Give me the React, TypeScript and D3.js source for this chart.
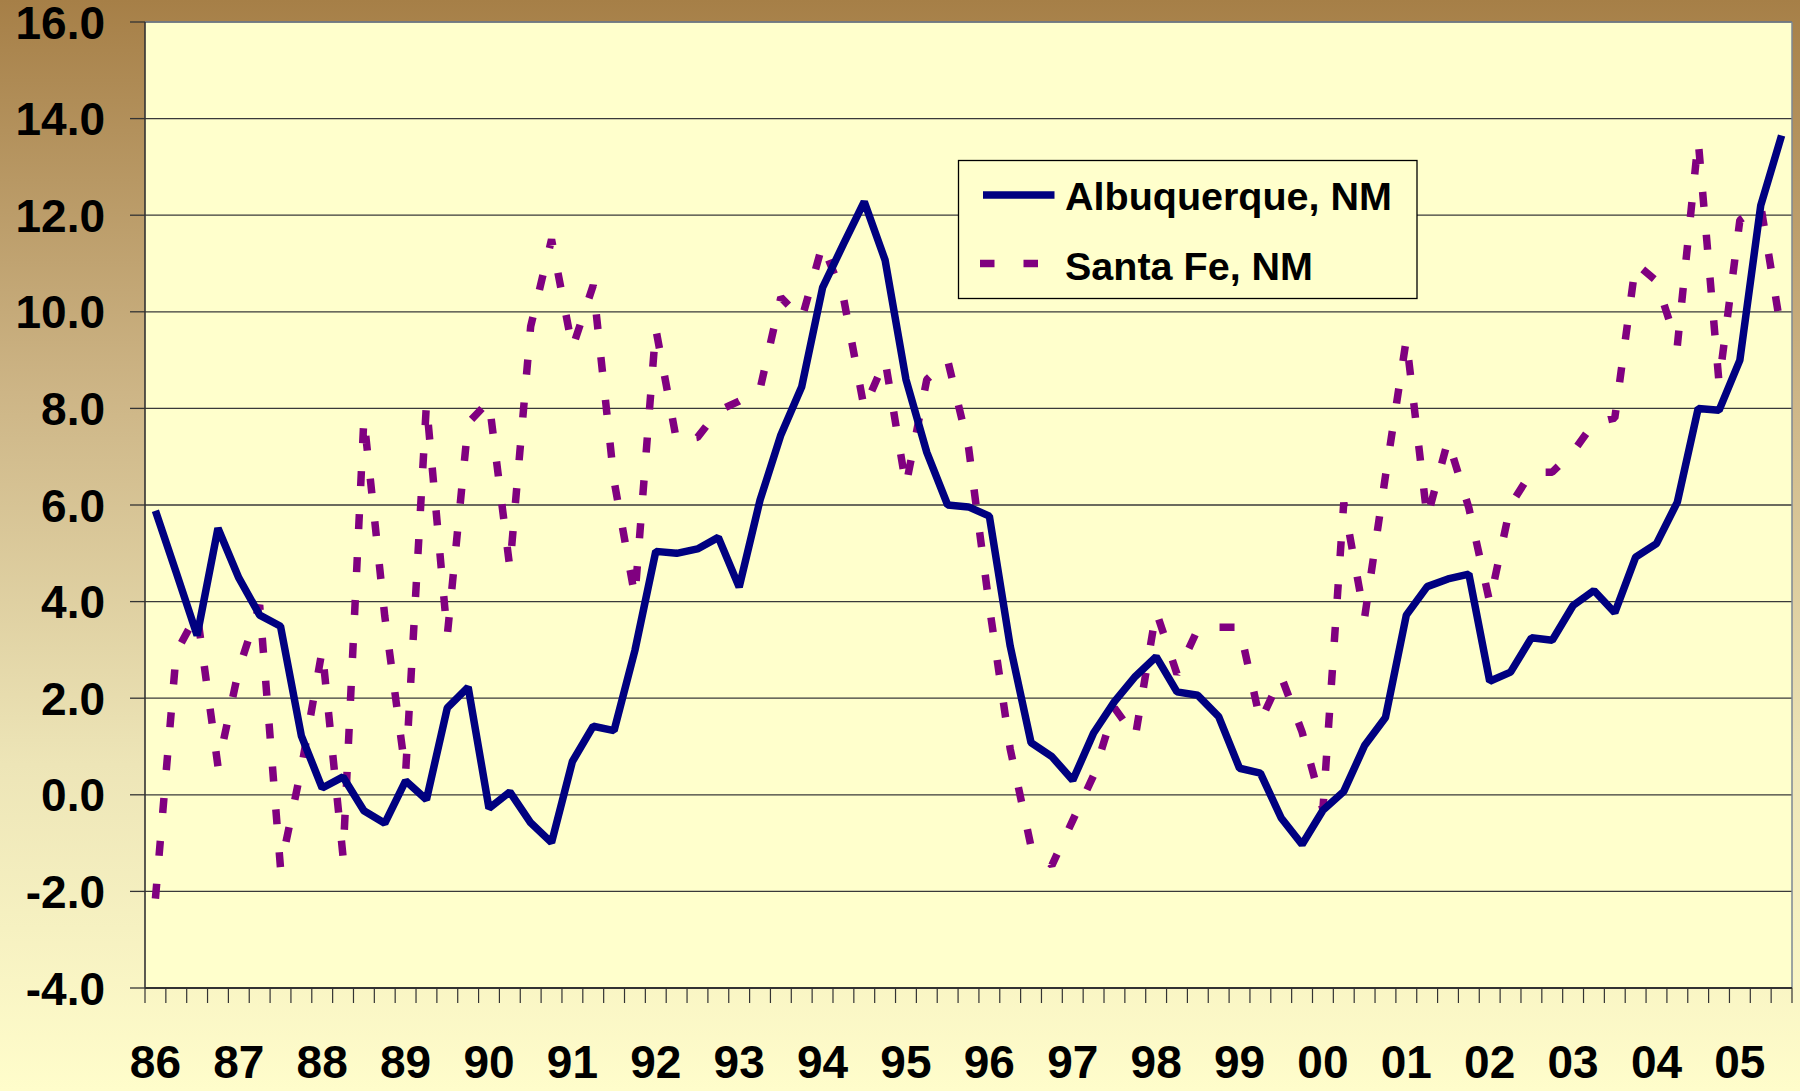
import React from "react";
import * as d3 from "d3";

const years = ["86","87","88","89","90","91","92","93","94","95","96","97","98","99","00","01","02","03","04","05"];
const quarters = ["Q1","Q2","Q3","Q4"];
const categories = years.flatMap((yr) => quarters.map((q) => yr + q)).slice(0, 79);

const albuquerque = [
  5.88, 4.6, 3.3, 5.52, 4.49, 3.72, 3.49, 1.22,
  0.14, 0.37, -0.33, -0.59, 0.29, -0.1, 1.8, 2.23,
  -0.28, 0.06, -0.58, -0.99, 0.69, 1.42, 1.33, 2.99,
  5.04, 5.0, 5.09, 5.33, 4.3, 6.1, 7.45, 8.45,
  10.5, 11.4, 12.28, 11.07, 8.6, 7.09, 6.0, 5.96,
  5.77, 3.08, 1.08, 0.79, 0.3, 1.28, 1.93, 2.45,
  2.86, 2.13, 2.06, 1.62, 0.55, 0.45, -0.48, -1.03,
  -0.32, 0.07, 1.02, 1.6, 3.72, 4.31, 4.47, 4.57,
  2.35, 2.54, 3.25, 3.2, 3.92, 4.23, 3.77, 4.92,
  5.2, 6.06, 8.0, 7.96, 9.0, 12.2, 13.65,
];

const santaFe = [
  -2.15, 2.95, 3.75, 0.59, 2.6, 3.93, -1.52, 0.55,
  3.0, -1.28, 7.8, 3.7, 0.45, 8.1, 3.3, 7.7,
  8.15, 4.7, 9.7, 11.5, 9.25, 10.55, 6.5, 4.1,
  9.65, 7.33, 7.4, 7.95, 8.15, 8.4, 10.3, 9.85,
  11.4, 10.3, 8.0, 9.0, 6.4, 8.6, 9.0, 7.2,
  3.9, 0.95, -1.07, -1.46, -0.53, 0.4, 1.8, 1.2,
  3.8, 2.5, 3.43, 3.47, 3.47, 1.52, 2.45, 1.3,
  -0.3, 6.05, 3.67, 6.6, 9.43, 5.73, 7.34, 5.94,
  3.99, 6.0, 6.68, 6.68, 7.1, 7.7, 7.8, 11.0,
  10.64, 9.3, 13.55, 8.53, 11.9, 12.2, 9.55,
];

const yTicks = [-4, -2, 0, 2, 4, 6, 8, 10, 12, 14, 16];
const seriesNames = ["Albuquerque, NM", "Santa Fe, NM"];

const W = 1800;
const H = 1091;
const PL = 145;
const PR = 1792;
const PT = 22;
const PB = 988;
const FONT = "'Liberation Sans', Arial, Helvetica, sans-serif";

export default function App() {
  const x = d3.scaleBand<string>().domain(categories).range([PL, PR]).padding(0);
  const cx = (c: string) => (x(c) as number) + x.bandwidth() / 2;
  const y = d3.scaleLinear().domain([-4, 16]).range([PB, PT]);
  const fmt = (v: number) => v.toFixed(1);

  const line = d3
    .line<number>()
    .x((_, i) => cx(categories[i]))
    .y((d) => y(d));

  const boundaries = d3.range(categories.length + 1).map((k) => PL + k * x.bandwidth());

  return (
    <svg
      width={W}
      height={H}
      style={{ position: "fixed", left: 0, top: 0, display: "block" }}
      xmlns="http://www.w3.org/2000/svg"
    >
      <defs>
        <linearGradient id="bg" x1="0" y1="0" x2="0" y2="1">
          <stop offset="0" stopColor="#A67F47" />
          <stop offset="0.36" stopColor="#CDB586" />
          <stop offset="0.7" stopColor="#EDE5B7" />
          <stop offset="1" stopColor="#FFFDCB" />
        </linearGradient>
      </defs>
      <rect x={0} y={0} width={W} height={H} fill="url(#bg)" />
      <rect x={PL} y={PT} width={PR - PL} height={PB - PT} fill="#FFFFCC" />

      {/* gridlines */}
      {yTicks.map((t) => (
        <line
          key={"g" + t}
          x1={PL}
          x2={PR}
          y1={y(t)}
          y2={y(t)}
          stroke="#3a3a3a"
          strokeWidth={1.3}
        />
      ))}
      {/* plot border top/right */}
      <line x1={PL} x2={PR} y1={PT} y2={PT} stroke="#7d8794" strokeWidth={1.5} />
      <line x1={PR} x2={PR} y1={PT} y2={PB} stroke="#7d8794" strokeWidth={1.5} />

      {/* y axis */}
      <line x1={PL} x2={PL} y1={PT} y2={PB} stroke="#333" strokeWidth={1.6} />
      {yTicks.map((t) => (
        <line key={"yt" + t} x1={PL - 15} x2={PL} y1={y(t)} y2={y(t)} stroke="#333" strokeWidth={1.3} />
      ))}
      {yTicks.map((t) => (
        <text
          key={"yl" + t}
          x={105}
          y={y(t) + 16.5}
          textAnchor="end"
          fontFamily={FONT}
          fontWeight="bold"
          fontSize={46}
          fill="#000"
        >
          {fmt(t)}
        </text>
      ))}

      {/* x axis */}
      <line x1={PL} x2={PR} y1={PB} y2={PB} stroke="#333" strokeWidth={2} />
      {boundaries.map((bx, k) => (
        <line key={"xt" + k} x1={bx} x2={bx} y1={PB} y2={PB + 15} stroke="#333" strokeWidth={1.2} />
      ))}
      {categories.map((c, i) =>
        i % 4 === 0 ? (
          <text
            key={"xl" + c}
            x={cx(c)}
            y={1078}
            textAnchor="middle"
            fontFamily={FONT}
            fontWeight="bold"
            fontSize={46}
            fill="#000"
          >
            {years[i / 4]}
          </text>
        ) : null
      )}

      {/* series */}
      <path
        d={line(santaFe) || ""}
        fill="none"
        stroke="#800080"
        strokeWidth={7.5}
        strokeDasharray="15 28"
        strokeLinecap="butt"
        strokeLinejoin="bevel"
      />
      <path
        d={line(albuquerque) || ""}
        fill="none"
        stroke="#000080"
        strokeWidth={7.5}
        strokeLinejoin="bevel"
      />

      {/* legend */}
      <rect x={958.5} y={160.5} width={458.5} height={138} fill="#FFFFCC" stroke="#000" strokeWidth={1.3} />
      <line x1={983} x2={1054.5} y1={195} y2={195} stroke="#000080" strokeWidth={7.5} />
      <line
        x1={980}
        x2={1054.5}
        y1={263.5}
        y2={263.5}
        stroke="#800080"
        strokeWidth={7.5}
        strokeDasharray="14.5 29"
      />
      <text x={1065} y={210} fontFamily={FONT} fontWeight="bold" fontSize={39.5} fill="#000">
        {seriesNames[0]}
      </text>
      <text x={1065} y={280} fontFamily={FONT} fontWeight="bold" fontSize={39.5} fill="#000">
        {seriesNames[1]}
      </text>
    </svg>
  );
}
